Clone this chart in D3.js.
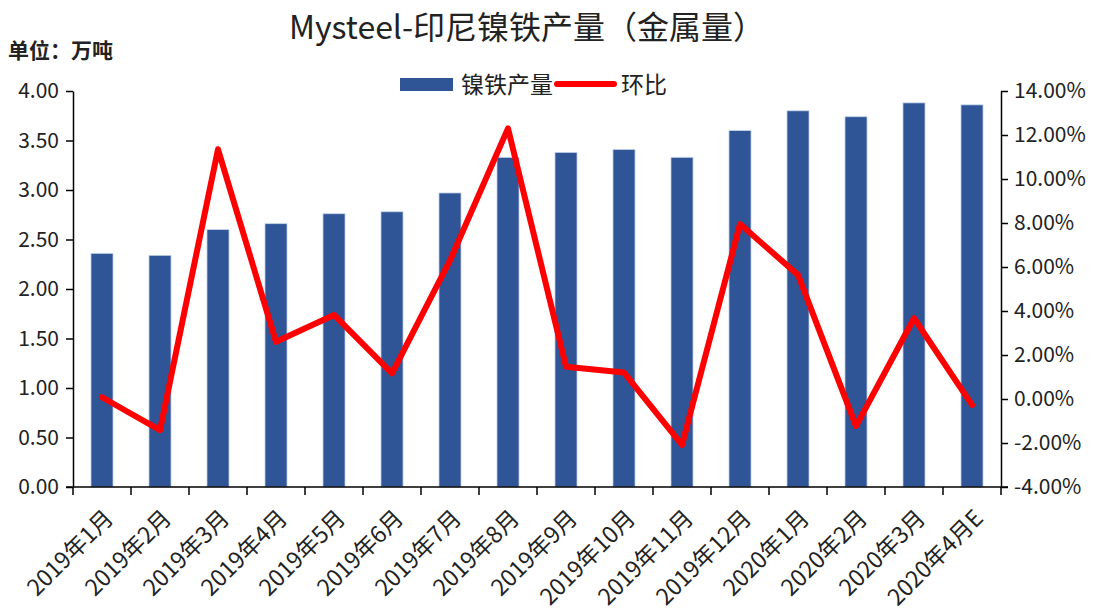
<!DOCTYPE html>
<html><head><meta charset="utf-8">
<script src="https://cdn.jsdelivr.net/npm/d3@7/dist/d3.min.js"></script>
<style>
body{margin:0;background:#fff;}
svg{display:block;}
</style></head>
<body>
<svg id="chart" width="1097" height="614"></svg>
<script>
const categories = ["2019年1月","2019年2月","2019年3月","2019年4月","2019年5月","2019年6月","2019年7月","2019年8月","2019年9月","2019年10月","2019年11月","2019年12月","2020年1月","2020年2月","2020年3月","2020年4月E"];
const output = [2.36,2.34,2.60,2.66,2.76,2.78,2.97,3.33,3.38,3.41,3.33,3.60,3.80,3.74,3.88,3.86];
const mom = [0.08,-1.41,11.35,2.6,3.82,1.17,6.3,12.3,1.47,1.2,-2.09,7.95,5.64,-1.23,3.67,-0.27];
const leftTicks = [0,0.5,1,1.5,2,2.5,3,3.5,4];
const rightTicks = [-4,-2,0,2,4,6,8,10,12,14];
const title = "Mysteel-印尼镍铁产量（金属量）";
const unitLabel = "单位：万吨";
const seriesNames = ["镍铁产量","环比"];

const svg = d3.select("#chart");
const font = "'Noto Sans CJK SC', 'Microsoft YaHei', sans-serif";
const m = {left:73, right:1001, top:91, bottom:487};
const barColor = "#2F5597", lineColor = "#FF0000";

const x = d3.scaleBand().domain(categories).range([m.left, m.right]).paddingInner(0.62).paddingOuter(0.31);
const xb = d3.scaleBand().domain(categories).range([m.left, m.right]);
const yL = d3.scaleLinear().domain([0,4]).range([m.bottom, m.top]);
const yR = d3.scaleLinear().domain([-4,14]).range([m.bottom, m.top]);

// title
svg.append("text").attr("x", 527).attr("y", 39).attr("text-anchor","middle")
  .style("font-family", font).style("font-size","32px").attr("fill","#222").text(title);
svg.append("text").attr("x", 8).attr("y", 58)
  .style("font-family", font).style("font-size","21px").style("font-weight","bold").attr("fill","#222").text(unitLabel);

// bars
svg.append("g").selectAll("rect").data(output).join("rect")
  .attr("x",(d,i)=>x(categories[i])).attr("width",x.bandwidth())
  .attr("y",d=>yL(d)).attr("height",d=>yL(0)-yL(d))
  .attr("fill",barColor).attr("stroke","#c5d3ec").attr("stroke-width",0.8);

// line
const line = d3.line().x((d,i)=>xb(categories[i])+xb.bandwidth()/2).y(d=>yR(d));
svg.append("path").datum(mom).attr("d",line).attr("fill","none")
  .attr("stroke",lineColor).attr("stroke-width",6).attr("stroke-linejoin","round").attr("stroke-linecap","round");

// axes
const axisStyle = g => {
  g.selectAll("path,line").attr("stroke","#000").attr("stroke-width",1.5);
  g.selectAll("text").style("font-family",font).style("font-size","21px").attr("fill","#222");
};
const gl = svg.append("g").attr("transform",`translate(${m.left},0)`)
  .call(d3.axisLeft(yL).tickValues(leftTicks).tickFormat(d3.format(".2f")).tickSizeInner(7).tickSizeOuter(0).tickPadding(7));
axisStyle(gl);
const gr = svg.append("g").attr("transform",`translate(${m.right},0)`)
  .call(d3.axisRight(yR).tickValues(rightTicks).tickFormat(d=>d.toFixed(2)+"%").tickSizeInner(7).tickSizeOuter(0).tickPadding(6));
axisStyle(gr);

const gx = svg.append("g").attr("transform",`translate(0,${m.bottom})`);
gx.append("line").attr("x1",m.left-7).attr("x2",m.right+7).attr("y1",0).attr("y2",0).attr("stroke","#000").attr("stroke-width",1.5);
const bounds = categories.map(c=>xb(c)).concat([m.right]);
gx.selectAll("line.tk").data(bounds).join("line").attr("class","tk")
  .attr("x1",d=>d).attr("x2",d=>d).attr("y1",0).attr("y2",8).attr("stroke","#000").attr("stroke-width",1.5);
gx.selectAll("text").data(categories).join("text")
  .attr("transform",c=>`translate(${xb(c)+xb.bandwidth()/2+7},${27}) rotate(-45)`)
  .attr("text-anchor","end").attr("dy","0.35em")
  .style("font-family",font).style("font-size","23px").attr("fill","#222").text(c=>c);

// legend
const lg = svg.append("g");
lg.append("rect").attr("x",400).attr("y",78).attr("width",53).attr("height",13).attr("fill",barColor);
lg.append("text").attr("x",461).attr("y",85).attr("dy","0.35em").style("font-family",font).style("font-size","23px").attr("fill","#222").text(seriesNames[0]);
lg.append("line").attr("x1",557).attr("x2",614).attr("y1",84).attr("y2",84).attr("stroke",lineColor).attr("stroke-width",6).attr("stroke-linecap","round");
lg.append("text").attr("x",621).attr("y",85).attr("dy","0.35em").style("font-family",font).style("font-size","23px").attr("fill","#222").text(seriesNames[1]);
</script>
</body></html>
